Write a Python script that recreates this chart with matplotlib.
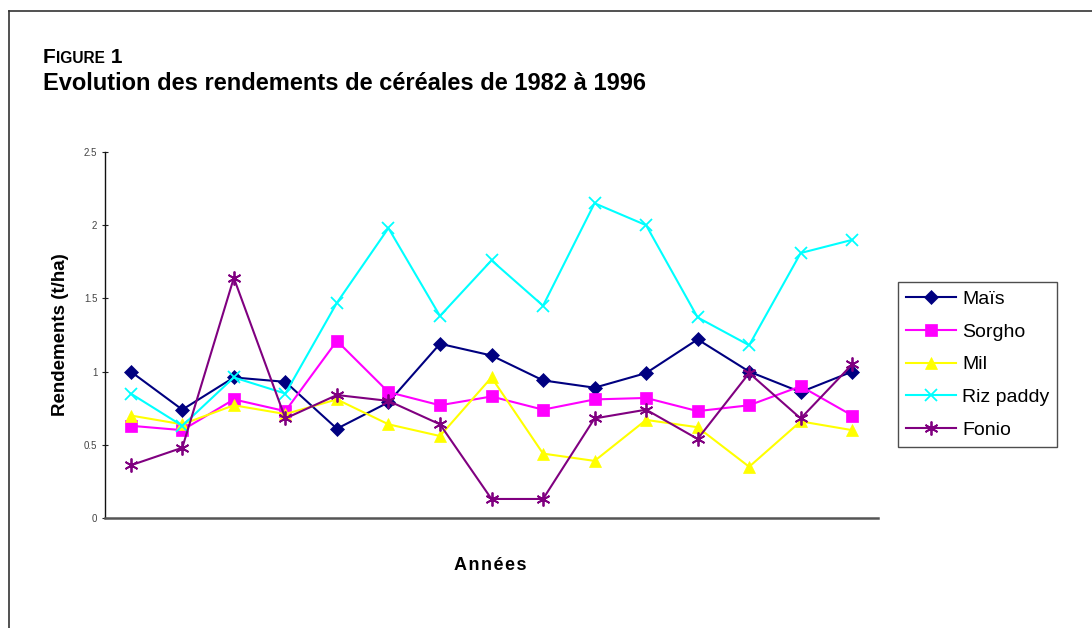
import matplotlib
matplotlib.use("Agg")
import matplotlib.pyplot as plt
from matplotlib.lines import Line2D
from matplotlib.ticker import FormatStrFormatter

plt.rcParams['font.family'] = ['Liberation Sans', 'DejaVu Sans']

# data (t/ha)
years = [1982, 1983, 1984, 1985, 1986, 1987, 1988, 1989,
         1990, 1991, 1992, 1993, 1994, 1995, 1996]
mais = [1.00, 0.74, 0.96, 0.93, 0.61, 0.79, 1.19, 1.11,
        0.94, 0.89, 0.99, 1.22, 1.00, 0.86, 1.00]
sorgho = [0.63, 0.60, 0.81, 0.73, 1.21, 0.86, 0.77, 0.83,
          0.74, 0.81, 0.82, 0.73, 0.77, 0.90, 0.70]
mil = [0.70, 0.64, 0.77, 0.71, 0.81, 0.64, 0.56, 0.96,
       0.44, 0.39, 0.67, 0.62, 0.35, 0.66, 0.60]
riz = [0.85, 0.63, 0.96, 0.85, 1.47, 1.98, 1.38, 1.76,
       1.45, 2.15, 2.00, 1.37, 1.18, 1.81, 1.90]
fonio = [0.36, 0.48, 1.64, 0.68, 0.84, 0.80, 0.64, 0.13,
         0.13, 0.68, 0.74, 0.54, 0.99, 0.68, 1.05]

labels = ['Maïs', 'Sorgho', 'Mil', 'Riz paddy', 'Fonio']
colors = ['#000080', '#FF00FF', '#FFFF00', '#00FFFF', '#800080']
markers = ['D', 's', '^', 'x', (6, 2, 0)]
msizes = [7.5, 8.5, 8.5, 8, 10]

fig = plt.figure(figsize=(10.92, 6.28), dpi=100)
ax = fig.add_axes([105/1092, 1 - 518/628, (878 - 105)/1092, (518 - 152)/628])

x = list(range(len(years)))
for vals, lab, col, mk, ms in zip([mais, sorgho, mil, riz, fonio], labels, colors, markers, msizes):
    ax.plot(x, vals, color=col, marker=mk, markersize=ms, lw=1.5,
            markeredgewidth=1.3 if mk in ('x', (6, 2, 0)) else 0.5,
            markeredgecolor=col, label=lab, clip_on=False)

ax.set_xlim(-0.5, len(years) - 0.5)
ax.set_ylim(0, 2.5)
ax.set_yticks([0, 0.5, 1, 1.5, 2, 2.5])
ax.yaxis.set_major_formatter(FormatStrFormatter('%g'))
ax.set_xticks([])
ax.tick_params(axis='y', direction='inout', length=5, width=0.8,
               labelsize=7, labelcolor='#444444', color='#222222', pad=3)
ax.spines['top'].set_visible(False)
ax.spines['right'].set_visible(False)
ax.spines['left'].set_color('#111111')
ax.spines['left'].set_linewidth(1)
ax.spines['bottom'].set_color('#555555')
ax.spines['bottom'].set_linewidth(1.8)

ax.set_ylabel('Rendements (t/ha)', fontsize=13.5, fontweight='bold', labelpad=11)
fig.text(490/1092, 1 - 565/628, 'A\u200an\u200an\u200aé\u200ae\u200as',
         fontsize=13, fontweight='bold', ha='center', va='center')

leg = ax.legend(loc='center left', bbox_to_anchor=(898/1092, 1 - 364.5/628),
                bbox_transform=fig.transFigure, borderaxespad=0, fontsize=14,
                frameon=True, fancybox=False, edgecolor='#222222',
                handlelength=2.6, handletextpad=0.3, labelspacing=0.78,
                borderpad=0.4)
leg.get_frame().set_linewidth(1)

# title with small caps "FIGURE"
t1 = fig.text(43/1092, 1 - 63/628, 'F', fontsize=15, fontweight='bold',
              ha='left', va='baseline')
t2 = fig.text(0, 0, 'IGURE', fontsize=11.2, fontweight='bold')
t3 = fig.text(0, 0, ' 1', fontsize=15, fontweight='bold')
fig.canvas.draw()
r = fig.canvas.get_renderer()
bb1 = t1.get_window_extent(r)
t2.set_position((bb1.x1 / 1092, 1 - 63/628))
t2.set_va('baseline')
fig.canvas.draw()
bb2 = t2.get_window_extent(r)
t3.set_position((bb2.x1 / 1092, 1 - 63/628))
t3.set_va('baseline')
fig.text(43/1092, 1 - 90/628, 'Evolution des rendements de céréales de 1982 à 1996',
         fontsize=17, fontweight='bold', ha='left', va='baseline')

# outer frame (top and left edges)
fig.add_artist(Line2D([9/1092, 9/1092], [0, 1 - 11/628], transform=fig.transFigure,
                      color='#333333', lw=1.2))
fig.add_artist(Line2D([9/1092, 1], [1 - 11/628, 1 - 11/628], transform=fig.transFigure,
                      color='#333333', lw=1.2))

fig.savefig('out.png', dpi=100)
